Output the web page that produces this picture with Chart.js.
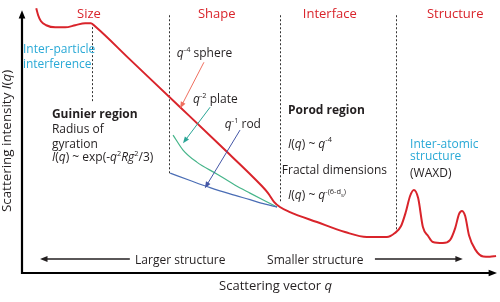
<!doctype html>
<html lang="en">
  <head>
    <meta charset="utf-8">
    <title>Scattering regions</title>
    <style>
      body { margin: 0; background: #fff; }
    </style>
  </head>
  <body>
    <canvas id="saxsChart" width="500" height="302"></canvas>

    <script src="https://cdn.jsdelivr.net/npm/chart.js"></script>
    <script>
      // scattering curve (q, log-ish intensity), arbitrary units
      const qMain = [0.30, 0.34, 0.40, 0.51, 0.70, 0.91, 1.12, 1.33, 1.45, 1.55, 2.27, 3.33, 4.17, 5.05, 5.18, 5.31, 5.43,
                     5.64, 6.21, 6.80, 7.26, 7.68, 7.85, 7.98, 8.08, 8.17, 8.25, 8.34, 8.44, 8.55, 8.65, 8.86,
                     9.01, 9.12, 9.20, 9.26, 9.33, 9.41, 9.54, 9.71, 9.85, 9.98];
      const iMain = [10.08, 9.81, 9.58, 9.43, 9.35, 9.35, 9.43, 9.51, 9.51, 9.37, 8.13, 6.31, 4.86, 3.31, 3.04, 2.70, 2.51,
                     2.32, 1.94, 1.56, 1.37, 1.37, 1.52, 1.79, 2.32, 2.93, 3.16, 2.85, 1.75, 1.41, 1.18, 1.14,
                     1.25, 1.71, 2.24, 2.36, 2.17, 1.44, 0.90, 0.63, 0.62, 0.65];
      const qPlate = [3.18, 3.39, 3.68, 4.11, 4.48, 4.80, 5.12, 5.37];
      const iPlate = [5.25, 4.68, 4.22, 3.76, 3.35, 3.04, 2.74, 2.51];
      const qRod = [3.12, 3.54, 3.96, 4.38, 4.80, 5.12, 5.37];
      const iRod = [3.80, 3.52, 3.25, 3.01, 2.79, 2.62, 2.51];

      // region boundaries and headings
      const regionNames = ['Size', 'Shape', 'Interface', 'Structure'];
      const regionCenters = [1.41, 4.10, 6.48, 9.12];
      const boundaryQ = [1.47, 3.10, 5.43, 7.87];
      const boundaryTop = [9.51, 9.81, 9.81, 9.81];
      const boundaryBottom = [6.46, 3.73, 2.70, 1.63];

      function toPoints(xs, ys) {
        return xs.map((x, i) => ({ x: x, y: ys[i] }));
      }

      const FONT = '"Open Sans", "DejaVu Sans", sans-serif';
      const INK = '#231f20';
      const CYAN = '#29a9d6';
      const RED = '#d9242b';

      // draws a line of text made of styled pieces (italic, bold, superscript...)
      function drawRich(ctx, parts, x, y, size, align) {
        const fontFor = (p) => {
          let s = size;
          if (p.sup) s = size * 0.62;
          if (p.supsub) s = size * 0.5;
          return (p.it ? 'italic ' : '') + (p.b ? 'bold ' : '') + s.toFixed(1) + 'px ' + FONT;
        };
        let total = 0;
        parts.forEach(p => { ctx.font = fontFor(p); total += ctx.measureText(p.t).width; });
        let cx = align === 'center' ? x - total / 2 : x;
        ctx.textBaseline = 'alphabetic';
        ctx.textAlign = 'left';
        parts.forEach(p => {
          ctx.font = fontFor(p);
          let dy = size * 0.36;
          if (p.sup) dy -= size * 0.42;
          if (p.supsub) dy -= size * 0.22;
          ctx.fillStyle = p.color || INK;
          ctx.fillText(p.t, cx, y + dy);
          cx += ctx.measureText(p.t).width;
        });
      }

      function arrow(ctx, x1, y1, x2, y2, color, width, head) {
        const a = Math.atan2(y2 - y1, x2 - x1);
        ctx.strokeStyle = color;
        ctx.fillStyle = color;
        ctx.lineWidth = width;
        ctx.beginPath();
        ctx.moveTo(x1, y1);
        ctx.lineTo(x2 - Math.cos(a) * head * 0.6, y2 - Math.sin(a) * head * 0.6);
        ctx.stroke();
        ctx.beginPath();
        ctx.moveTo(x2, y2);
        ctx.lineTo(x2 - head * Math.cos(a - 0.38), y2 - head * Math.sin(a - 0.38));
        ctx.lineTo(x2 - head * Math.cos(a + 0.38), y2 - head * Math.sin(a + 0.38));
        ctx.closePath();
        ctx.fill();
      }

      const annotations = [
        { q: 0.02, i: 8.55, parts: [{ t: 'Inter-particle', color: CYAN }] },
        { q: 0.02, i: 7.98, parts: [{ t: 'interference', color: CYAN }] },
        { q: 3.26, i: 8.40, parts: [{ t: 'q', it: true }, { t: '-4', sup: true }, { t: ' sphere' }] },
        { q: 3.60, i: 6.62, parts: [{ t: 'q', it: true }, { t: '-2', sup: true }, { t: ' plate' }] },
        { q: 4.27, i: 5.70, parts: [{ t: 'q', it: true }, { t: '-1', sup: true }, { t: ' rod' }] },
        { q: 0.63, i: 6.08, parts: [{ t: 'Guinier region', b: true }] },
        { q: 0.63, i: 5.51, parts: [{ t: 'Radius of' }] },
        { q: 0.63, i: 4.94, parts: [{ t: 'gyration' }] },
        { q: 0.63, i: 4.41, parts: [{ t: 'I', it: true }, { t: '(' }, { t: 'q', it: true }, { t: ') ~ exp(-' },
          { t: 'q', it: true }, { t: '2', sup: true }, { t: 'Rg', it: true }, { t: '2', sup: true }, { t: '/3)' }] },
        { q: 5.60, i: 6.20, parts: [{ t: 'Porod region', b: true }] },
        { q: 5.60, i: 4.94, parts: [{ t: 'I', it: true }, { t: '(' }, { t: 'q', it: true }, { t: ') ~ ' },
          { t: 'q', it: true }, { t: '-4', sup: true }] },
        { q: 5.47, i: 3.92, parts: [{ t: 'Fractal dimensions' }] },
        { q: 5.60, i: 2.97, parts: [{ t: 'I', it: true }, { t: '(' }, { t: 'q', it: true }, { t: ') ~ ' },
          { t: 'q', it: true }, { t: '-(6-d', sup: true }, { t: 's', supsub: true }, { t: ')', sup: true }] },
        { q: 8.17, i: 4.94, parts: [{ t: 'Inter-atomic', color: CYAN }] },
        { q: 8.17, i: 4.45, parts: [{ t: 'structure', color: CYAN }] },
        { q: 8.17, i: 3.80, parts: [{ t: '(WAXD)' }] },
        { q: 2.38, i: 0.49, parts: [{ t: 'Larger structure' }] },
        { q: 5.16, i: 0.49, parts: [{ t: 'Smaller structure' }] }
      ];

      const pointers = [
        { from: [3.83, 8.02], to: [3.33, 6.27], color: '#ef6f5f', head: 7, w: 1 },
        { from: [3.96, 6.31], to: [3.39, 4.94], color: '#2aa596', head: 7, w: 1 },
        { from: [4.59, 5.44], to: [3.85, 3.23], color: '#4456a6', head: 7, w: 1 },
        { from: [2.27, 0.53], to: [0.38, 0.53], color: INK, head: 8, w: 1.6 },
        { from: [7.43, 0.53], to: [9.28, 0.53], color: INK, head: 8, w: 1.6 }
      ];

      const sketchPlugin = {
        id: 'sketch',
        beforeDatasetsDraw(chart) {
          const { ctx } = chart;
          const xs = chart.scales.x, ys = chart.scales.y;
          ctx.save();
          ctx.strokeStyle = '#333';
          ctx.lineWidth = 1;
          ctx.setLineDash([2, 2]);
          boundaryQ.forEach((q, k) => {
            const x = Math.round(xs.getPixelForValue(q)) + 0.5;
            ctx.beginPath();
            ctx.moveTo(x, ys.getPixelForValue(boundaryTop[k]));
            ctx.lineTo(x, ys.getPixelForValue(boundaryBottom[k]));
            ctx.stroke();
          });
          ctx.restore();
        },
        afterDatasetsDraw(chart) {
          const { ctx, chartArea } = chart;
          const xs = chart.scales.x, ys = chart.scales.y;
          ctx.save();

          // axes with arrow heads
          const left = chartArea.left, bottom = chartArea.bottom;
          arrow(ctx, left, bottom + 1, left, ys.getPixelForValue(10.0), '#000', 2.2, 9);
          arrow(ctx, left - 1, bottom, chartArea.right, bottom, '#000', 2.2, 9);

          // region headings
          regionNames.forEach((name, k) => {
            ctx.font = '13px ' + FONT;
            ctx.fillStyle = RED;
            ctx.textAlign = 'center';
            ctx.textBaseline = 'middle';
            ctx.fillText(name, xs.getPixelForValue(regionCenters[k]), ys.getPixelForValue(9.85));
          });

          annotations.forEach(a => {
            drawRich(ctx, a.parts, xs.getPixelForValue(a.q), ys.getPixelForValue(a.i), 12, 'left');
          });

          pointers.forEach(p => {
            arrow(ctx, xs.getPixelForValue(p.from[0]), ys.getPixelForValue(p.from[1]),
              xs.getPixelForValue(p.to[0]), ys.getPixelForValue(p.to[1]), p.color, p.w, p.head);
          });

          // axis titles
          drawRich(ctx, [{ t: 'Scattering vector ' }, { t: 'q', it: true }],
            (chartArea.left + chartArea.right) / 2 + 16, bottom + 12, 13, 'center');
          ctx.translate(left - 16, 141);
          ctx.rotate(-Math.PI / 2);
          drawRich(ctx, [{ t: 'Scattering intensity ' }, { t: 'I', it: true }, { t: '(' }, { t: 'q', it: true }, { t: ')' }],
            0, 0, 13.4, 'center');
          ctx.restore();
        }
      };

      new Chart(document.getElementById('saxsChart'), {
        type: 'scatter',
        data: {
          datasets: [
            { label: 'q^-1 rod', data: toPoints(qRod, iRod), borderColor: '#4a6db5', borderWidth: 1.2 },
            { label: 'q^-2 plate', data: toPoints(qPlate, iPlate), borderColor: '#46b58a', borderWidth: 1.2 },
            { label: 'I(q)', data: toPoints(qMain, iMain), borderColor: RED, borderWidth: 2 }
          ].map(d => Object.assign(d, {
            showLine: true, pointRadius: 0, cubicInterpolationMode: 'monotone', clip: false
          }))
        },
        options: {
          responsive: false,
          animation: false,
          layout: { padding: { left: 22, right: 3, top: 5, bottom: 29 } },
          plugins: { legend: { display: false }, tooltip: { enabled: false } },
          scales: {
            x: { type: 'linear', min: 0, max: 10, display: false },
            y: { type: 'linear', min: 0, max: 10.2, display: false }
          }
        },
        plugins: [sketchPlugin]
      });
    </script>
  </body>
</html>
